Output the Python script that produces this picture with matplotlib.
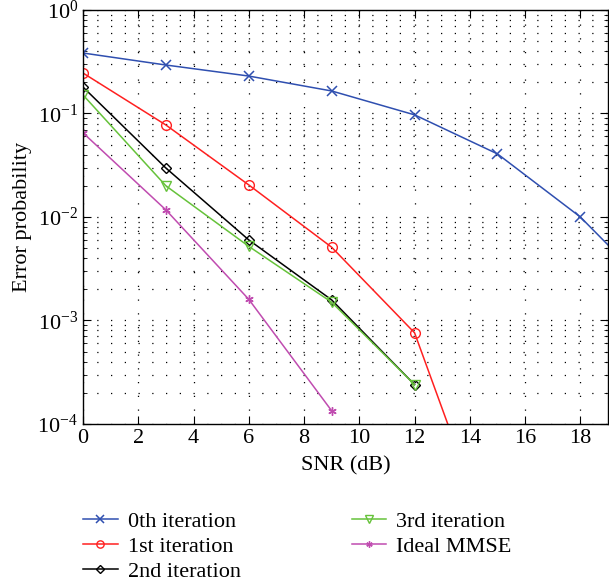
import numpy as np
import matplotlib
matplotlib.use("Agg")
import matplotlib.pyplot as plt
from matplotlib.ticker import LogLocator, NullFormatter, MultipleLocator

plt.rcParams["font.family"] = ["Liberation Serif", "DejaVu Serif"]
plt.rcParams["mathtext.fontset"] = "stix"

# SNR points (dB)
snr = [0, 3, 6, 9, 12, 15, 18, 21]
snr_first = [0, 3, 6, 9, 12, 15]
snr_short = [0, 3, 6, 9, 12]
snr_mmse = [0, 3, 6, 9]

# error probabilities
iter0 = [0.384, 0.294, 0.23, 0.165, 0.097, 0.0407, 0.0100, 0.00155]
iter1 = [0.246, 0.0774, 0.0204, 0.0051, 0.00076, 0.0000048]
iter2 = [0.180, 0.0297, 0.0060, 0.00158, 0.00024]
iter3 = [0.151, 0.0200, 0.0052, 0.00150, 0.00024]
mmse = [0.065, 0.0117, 0.0016, 0.000134]

labels = ["0th iteration", "1st iteration", "2nd iteration",
          "3rd iteration", "Ideal MMSE"]

fig = plt.figure(figsize=(6.09, 5.88), dpi=100)
ax = fig.add_axes([0.1363, 0.279, 0.862, 0.704])

ms = 7
h0, = ax.plot(snr, iter0, "-x", color="#2f4fb0", lw=1.1, ms=ms, mew=1.1,
              label=labels[0])
h1, = ax.plot(snr_first, iter1, "-o", color="#ff2020", lw=1.1, ms=ms,
              mfc="none", mew=1.0, label=labels[1])
h2, = ax.plot(snr_short, iter2, "-D", color="black", lw=1.1, ms=5.5,
              mfc="none", mew=1.0, label=labels[2])
h3, = ax.plot(snr_short, iter3, "-v", color="#66c23a", lw=1.1, ms=ms,
              mfc="none", mew=1.0, label=labels[3])
h4, = ax.plot(snr_mmse, mmse, "-", marker=(6, 2, 0), color="#c04cb0",
              lw=1.1, ms=6, mew=1.0, label=labels[4])

ax.set_yscale("log")
ax.set_xlim(0, 19)
ax.set_ylim(1e-4, 1)
ax.xaxis.set_major_locator(MultipleLocator(2))
ax.yaxis.set_major_locator(LogLocator(base=10, numticks=10))
ax.yaxis.set_minor_locator(LogLocator(base=10, subs=np.arange(2, 10), numticks=20))
ax.yaxis.set_minor_formatter(NullFormatter())

dots = (0, (1, 10))
ax.grid(True, which="major", axis="both", color="black", ls=dots, lw=0.9)
ax.grid(True, which="minor", axis="y", color="black", ls=dots, lw=0.9)

ax.tick_params(which="both", direction="in", top=True, right=True,
               labelsize=16)
ax.tick_params(which="major", length=6)
ax.tick_params(which="minor", length=3)
for s in ax.spines.values():
    s.set_linewidth(1.0)

ax.set_xlabel("SNR (dB)", fontsize=16, labelpad=6)
ax.set_ylabel("Error probability", fontsize=16, labelpad=4)

fig.legend(handles=[h0, h1, h2, h3, h4], labels=labels,
           loc="upper left", bbox_to_anchor=(0.122, 0.145),
           ncol=2, frameon=False, fontsize=16, handlelength=1.55,
           handletextpad=0.45, columnspacing=5.0, labelspacing=0.2,
           markerscale=0.75, borderaxespad=0)

fig.savefig("out.png", dpi=100)
